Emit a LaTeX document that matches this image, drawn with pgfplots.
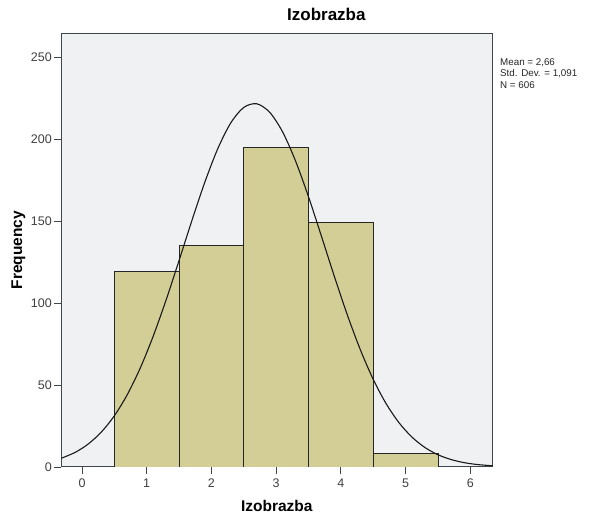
\documentclass[border=0pt]{standalone}
\usepackage{pgfplots}
\pgfplotsset{compat=1.18}
\usepackage{fontspec}
\setmainfont{Liberation Sans}
\definecolor{plotbg}{RGB}{240,241,242}
\definecolor{barfill}{RGB}{211,206,150}
\definecolor{frame}{RGB}{60,70,75}

\begin{document}
\begin{tikzpicture}[x=1pt,y=1pt]
\begin{axis}[
    scale only axis, width=431pt, height=433pt,
    xmin=-0.32, xmax=6.34,
    ymin=0, ymax=264,
    xtick={0,1,2,3,4,5,6},
    ytick={0,50,100,150,200,250},
    tick align=outside,
    tick style={frame, line width=0.9pt},
    major tick length=7pt,
    xtick pos=bottom, ytick pos=left,
    axis line style={frame, line width=1pt},
    axis background/.style={fill=plotbg},
    ticklabel style={font=\fontsize{12.5}{13}\selectfont, text=black!75},
    xticklabel style={yshift=-1pt},
    yticklabel style={xshift=1pt},
    /pgf/number format/assume math mode=true,
    title={\bfseries Izobrazba},
    title style={font=\fontsize{17}{19}\selectfont, at={(axis description cs:0.615,1.0323)}, anchor=center},
    xlabel={\bfseries Izobrazba},
    ylabel={\bfseries Frequency},
    label style={font=\fontsize{15.5}{17}\selectfont},
    xlabel style={at={(axis description cs:0.5,-0.090)}, anchor=center},
    ylabel style={at={(axis description cs:-0.0998,0.501)}, anchor=center},
    clip=true,
]
\coordinate (O) at (axis cs:0,0);
\addplot[ybar, bar width=1, bar shift=0pt, fill=barfill, draw=black!85, line width=0.8pt]
coordinates {(1,119)(2,135)(3,195)(4,149)(5,8)};

% normal curve, mean 2.66, sd 1.091, N 606
\addplot[black!90, line width=1.1pt, smooth] coordinates {
(-0.32,5.31)(-0.1,9.03)(0.1,14.13)(0.3,21.36)(0.5,31.21)(0.7,44.13)(0.9,60.32)
(1.1,79.73)(1.3,101.89)(1.5,125.92)(1.7,150.47)(1.9,173.86)(2.1,194.25)
(2.3,209.86)(2.5,219.23)(2.7,221.45)(2.9,216.30)(3.1,204.29)
(3.3,186.57)(3.5,164.76)(3.7,140.69)(3.9,116.16)(4.1,92.74)(4.3,71.60)
(4.5,53.45)(4.7,38.58)(4.9,26.93)(5.1,18.18)(5.3,11.86)(5.5,7.48)
(5.7,4.57)(5.9,2.69)(6.1,1.54)(6.34,0.75)};
\end{axis}
\node[anchor=north west, align=left, inner sep=0pt, font=\fontsize{9.8}{11.8}\selectfont, text=black!85]
  at ([shift={(418,409)}]O) {Mean = 2,66\\Std. Dev. = 1,091\\N = 606};
\pgfresetboundingbox
\useasboundingbox ([shift={(-82,-49)}]O) rectangle ([shift={(508,467)}]O);
\end{tikzpicture}
\end{document}
